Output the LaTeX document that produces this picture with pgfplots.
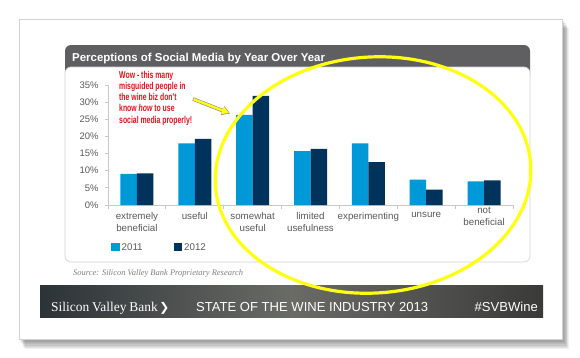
\documentclass[border=0pt]{standalone}
\usepackage{fontspec}
\setmainfont{Liberation Sans}
\newfontfamily\seriffont{Liberation Serif}
\newfontfamily\chevfont{DejaVu Sans}
\newfontfamily\narrowfont[FakeStretch=0.69]{Liberation Sans Bold}
\newfontfamily\narrowbi[FakeStretch=0.69]{Liberation Sans Bold Italic}
\usepackage{pgfplots}
\pgfplotsset{compat=1.18}
\usetikzlibrary{arrows.meta}
\definecolor{c11}{HTML}{0099D8}
\definecolor{c12}{HTML}{00335B}
\definecolor{axgrey}{HTML}{C8C8C8}
\definecolor{lblgrey}{HTML}{595959}
\definecolor{titlegrey}{HTML}{5F5F62}
\definecolor{panelgrey}{HTML}{D4D4D4}
\definecolor{wowred}{HTML}{E3141B}
\definecolor{yel}{HTML}{FFFF10}
\definecolor{srcgrey}{HTML}{808080}
\definecolor{footA}{HTML}{2C3337}
\definecolor{footB}{HTML}{6A6B65}
\definecolor{footC}{HTML}{3A3B39}
\begin{document}
\begin{tikzpicture}
\begin{scope}[x=1bp,y=-1bp]
\path[use as bounding box] (0,0) rectangle (580,357);
\fill[white] (0,0) rectangle (580,357);
\foreach \i in {1,...,8} {\fill[black,opacity=0.06] (19+\i*0.7,19+\i*1.1) rectangle (562+\i*0.9,339+\i*1.3);}
\fill[white] (19,19) rectangle (562,339);
\draw[gray!35, line width=0.6bp] (19,19) rectangle (562,339);
\fill[titlegrey, rounded corners=6bp] (65,45) rectangle (530,82);
\filldraw[fill=white, draw=panelgrey, line width=0.7bp, rounded corners=6bp] (65,67) rectangle (530,262);
\node[anchor=base west, text=white, font=\fontsize{11.5}{12}\selectfont\bfseries, inner sep=0] at (72,61.5) {Perceptions of Social Media by Year Over Year};
\node[anchor=base west, font=\seriffont\itshape\fontsize{8.5}{9}\selectfont, text=srcgrey, inner sep=0] at (73,275) {Source: Silicon Valley Bank Proprietary Research};
\shade[left color=footA, right color=footC, middle color=footB] (40,285) rectangle (543,317);
\node[anchor=base west, text=white, font=\seriffont\fontsize{13.5}{14}\selectfont, inner sep=0] at (51,311) {Silicon\hspace{-0.5bp} Valley\hspace{-0.5bp} Bank\hspace{1.5bp}{\chevfont\bfseries\fontsize{12}{12}\selectfont ❯}};
\node[anchor=base west, text=white, font=\fontsize{13.1}{14}\selectfont, inner sep=0] at (196,311) {STATE OF THE WINE INDUSTRY 2013};
\node[anchor=base east, text=white, font=\fontsize{13.1}{14}\selectfont, inner sep=0] at (538,311) {\#SVBWine};
\end{scope}
\begin{axis}[
  at={(108bp,-205bp)}, anchor=south west,
  scale only axis, width=405bp, height=120bp,
  ymin=0, ymax=35, xmin=-0.5, xmax=6.5,
  axis x line*=bottom, axis y line*=left,
  axis line style={axgrey, line width=0.8bp},
  ybar=0pt, bar width=16.5bp,
  ytick={0,5,...,35},
  yticklabels={0\%,5\%,10\%,15\%,20\%,25\%,30\%,35\%},
  xtick={0,...,5},
  xticklabels={extremely\\beneficial, useful, somewhat\\useful, limited\\usefulness, experimenting, unsure},
  extra x ticks={6},
  extra x tick labels={{not\\beneficial}},
  extra x tick style={major tick length=0pt, xticklabel style={yshift=2.5bp}},
  minor xtick={-0.5,0.5,...,6.5},
  tick align=outside,
  major x tick style={draw=none},
  minor x tick style={axgrey, line width=0.8bp},
  ytick style={axgrey, line width=0.8bp},
  major tick length=3bp, minor tick length=4bp,
  xticklabel style={align=center, text=lblgrey, font=\fontsize{9.8}{12.3}\selectfont, anchor=north, yshift=-1bp},
  yticklabel style={text=lblgrey, font=\fontsize{9.5}{11}\selectfont, xshift=-3bp},
  legend style={at={(0,-0.354)}, anchor=west, draw=none, fill=none,
    font=\fontsize{9.8}{11}\selectfont, text=lblgrey,
    /tikz/every even column/.append style={column sep=29bp}},
  legend columns=2,
  clip=false,
]
\addplot[fill=c11, draw=none, legend image code/.code={\fill[c11] (0bp,-4bp) rectangle (8.5bp,4bp);}] coordinates {(0,9.1) (1,18.0) (2,26.3) (3,15.7) (4,18.0) (5,7.4) (6,6.9)};
\addplot[fill=c12, draw=none, legend image code/.code={\fill[c12] (0bp,-4bp) rectangle (8.5bp,4bp);}] coordinates {(0,9.2) (1,19.3) (2,31.8) (3,16.4) (4,12.5) (5,4.5) (6,7.2)};
\legend{2011,2012}
\end{axis}
\begin{scope}[x=1bp,y=-1bp]
\node[anchor=north west, align=left, text=wowred, font=\narrowfont\fontsize{10}{11.2}\selectfont, inner sep=0] at (119,71) {Wow - this many\\misguided people in\\the wine biz don't\\know {\narrowbi how} to use\\social media properly!};
\draw[-{Triangle[length=8bp,width=9bp]}, black!45, line width=3.6bp] (193,99) -- (230,113.5);
\draw[-{Triangle[length=7bp,width=7.5bp]}, yel, line width=2.4bp] (193.5,99.2) -- (229,113);
\draw[yel, line width=3.2bp, rotate around={4:(373,175)}] (373,175) ellipse [x radius=158, y radius=118];
\end{scope}
\end{tikzpicture}
\end{document}
